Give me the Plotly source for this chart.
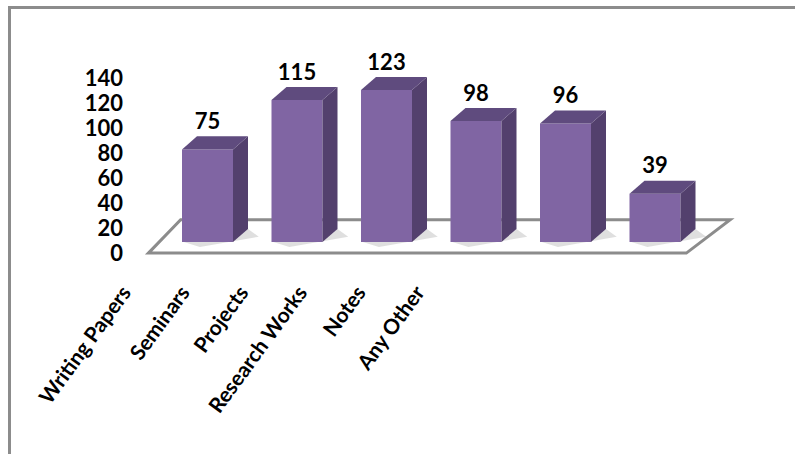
import plotly.graph_objects as go

# Survey responses per activity
categories = ["Writing Papers", "Seminars", "Projects", "Research Works", "Notes", "Any Other"]
counts = [75, 115, 123, 98, 96, 39]
y_ticks = [0, 20, 40, 60, 80, 100, 120, 140]

# ---- page / plot-area geometry (pixels) ----
FIG_W, FIG_H = 795, 454
PL, PR, PT, PB = 60, 760, 20, 275
PW, PH = PR - PL, PB - PT

# bar projection: column spacing and vertical scale of the front faces
COL0_PX, COL_STEP_PX = 207.5, 89.5
ZERO_PX, UNIT_PX = 242.0, 1.235
# value-axis labels sit on a slightly shifted scale
LAB_ZERO_PX, LAB_UNIT_PX = 253.0, 1.25
VALUE_AXIS_PX = 123.0
# category labels run on a tighter spacing than the columns
CAT0_PX, CAT_STEP_PX = 123.5, 58.7

x_min = -(COL0_PX - PL) / COL_STEP_PX
x_max = x_min + PW / COL_STEP_PX
y_min = -(PB - ZERO_PX) / UNIT_PX
y_max = y_min + PH / UNIT_PX
y2_min = -(PB - LAB_ZERO_PX) / LAB_UNIT_PX
y2_max = y2_min + PH / LAB_UNIT_PX
x2_min = -(CAT0_PX - PL) / CAT_STEP_PX
x2_max = x2_min + PW / CAT_STEP_PX

BAR_W = 51 / COL_STEP_PX          # front face width in column units
DX = 15 / COL_STEP_PX             # depth offset, horizontal
DY = 13 / UNIT_PX                 # depth offset, vertical

FRONT = "#8065A3"
SIDE = "#53406D"
TOP = "#5F4B7E"
FONT = "Lato"

idx = list(range(len(categories)))

fig = go.Figure()

# soft shadows cast on the floor
for i, v in zip(idx, counts):
    r = i + BAR_W / 2
    l = i - BAR_W / 2
    fig.add_trace(go.Scatter(
        x=[l + 0.02, r, r + DX, r + DX + 0.12, l + 0.2, l + 0.02],
        y=[0, 0, DY, DY * 0.4, -4, 0],
        fill="toself", fillcolor="rgba(110,110,110,0.22)",
        line=dict(width=0), mode="lines", hoverinfo="skip", showlegend=False,
    ))

# front faces
fig.add_trace(go.Bar(
    x=idx, y=counts, width=BAR_W,
    marker=dict(color=FRONT, line=dict(width=0)),
    hoverinfo="skip", showlegend=False,
))

# right side and top faces of each column
for i, v in zip(idx, counts):
    r = i + BAR_W / 2
    l = i - BAR_W / 2
    fig.add_trace(go.Scatter(
        x=[r, r + DX, r + DX, r, r], y=[0, DY, v + DY, v, 0],
        fill="toself", fillcolor=SIDE, line=dict(width=0),
        mode="lines", hoverinfo="skip", showlegend=False,
    ))
    fig.add_trace(go.Scatter(
        x=[l, r, r + DX, l + DX, l], y=[v, v, v + DY, v + DY, v],
        fill="toself", fillcolor=TOP, line=dict(width=0),
        mode="lines", hoverinfo="skip", showlegend=False,
    ))

# value labels above each column
fig.add_trace(go.Scatter(
    x=idx, y=[v + DY + 1.5 for v in counts], text=[str(v) for v in counts],
    mode="text", textposition="top center",
    textfont=dict(family=FONT, size=22, color="#000000", weight="bold"),
    hoverinfo="skip", showlegend=False,
))

# floor plate
n = len(categories)
fl_front, fl_back = -9.0, 18.0
fx0, fx1 = -0.66, n - 0.65
bx0, bx1 = -0.30, n - 0.16
floor_path = (f"M {fx0},{fl_front} L {fx1},{fl_front} L {bx1},{fl_back} "
              f"L {bx0},{fl_back} Z")

def px_to_paper_x(px):
    return (px - PL) / PW

def px_to_paper_y(py):
    return (PB - py) / PH

shapes = [
    dict(type="path", path=floor_path, xref="x", yref="y", layer="below",
         fillcolor="#FFFFFF", line=dict(color="#8C8C8C", width=3)),
    # outer chart frame (left and top edges)
    dict(type="line", xref="paper", yref="paper",
         x0=px_to_paper_x(9.5), x1=px_to_paper_x(9.5),
         y0=px_to_paper_y(7), y1=px_to_paper_y(FIG_H + 5),
         line=dict(color="#8C8C8C", width=3)),
    dict(type="line", xref="paper", yref="paper",
         x0=px_to_paper_x(8), x1=px_to_paper_x(FIG_W + 5),
         y0=px_to_paper_y(7.5), y1=px_to_paper_y(7.5),
         line=dict(color="#8C8C8C", width=3)),
]

# helper traces that carry the label axes
fig.add_trace(go.Scatter(x=[None], y=[None], xaxis="x2", yaxis="y", showlegend=False, hoverinfo="skip"))
fig.add_trace(go.Scatter(x=[None], y=[None], xaxis="x", yaxis="y2", showlegend=False, hoverinfo="skip"))

fig.update_layout(
    width=FIG_W, height=FIG_H,
    margin=dict(l=PL, r=FIG_W - PR, t=PT, b=FIG_H - PB),
    paper_bgcolor="#FFFFFF", plot_bgcolor="rgba(0,0,0,0)",
    shapes=shapes,
    xaxis=dict(range=[x_min, x_max], visible=False, fixedrange=True),
    yaxis=dict(range=[y_min, y_max], visible=False, fixedrange=True),
    xaxis2=dict(
        overlaying="x", anchor="y", side="bottom",
        range=[x2_min, x2_max], tickvals=idx, ticktext=categories,
        tickangle=-54, showgrid=False, zeroline=False, showline=False, ticks="",
        tickfont=dict(family=FONT, size=21, color="#000000", weight="bold"),
    ),
    yaxis2=dict(
        overlaying="y", anchor="free", position=px_to_paper_x(VALUE_AXIS_PX),
        side="left",
        range=[y2_min, y2_max], tickvals=y_ticks,
        showgrid=False, zeroline=False, showline=False, ticks="",
        tickfont=dict(family=FONT, size=22, color="#000000", weight="bold"),
    ),
    showlegend=False,
)

fig.write_html("out.html")
